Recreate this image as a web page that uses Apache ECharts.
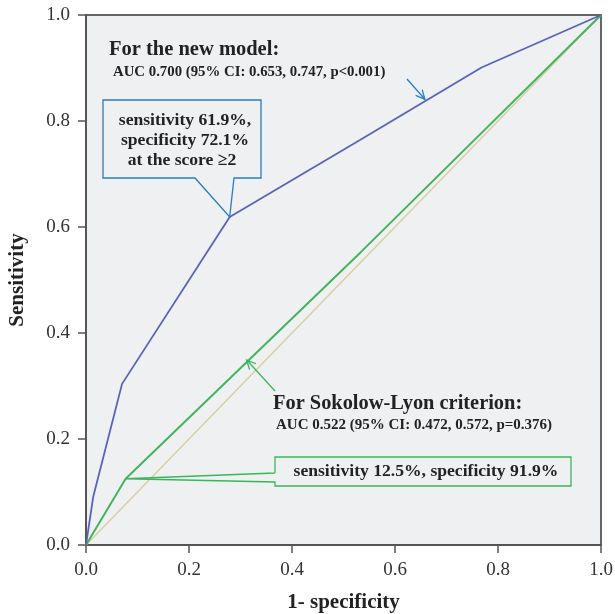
<!DOCTYPE html>
<html>
<head>
<meta charset="utf-8">
<script src="https://cdn.jsdelivr.net/npm/echarts@6/dist/echarts.min.js"></script>
<style>
  html, body { margin: 0; padding: 0; background: #fff; }
  #chart { width: 615px; height: 614px; }
</style>
</head>
<body>
<div id="chart"></div>
<script>
// ROC curve points [1 - specificity, sensitivity]
const newModel = [[0, 0], [0.014, 0.091], [0.07, 0.304], [0.279, 0.619], [0.532, 0.764], [0.768, 0.901], [1, 1]]
const sokolowLyon = [[0, 0], [0.077, 0.125], [0.534, 0.553], [1, 1]]
const reference = [[0, 0], [1, 1]]
const tickValues = [0, 0.2, 0.4, 0.6, 0.8, 1.0]

const newModelCut = [0.279, 0.619]
const sokolowCut = [0.077, 0.125]
const newModelArrowTip = [0.658, 0.841]
const sokolowArrowTip = [0.312, 0.349]

const FONT = '"Liberation Serif", "DejaVu Serif", serif'
const BG = '#eff0f2'
const BLUE_LINE = '#5864b8'
const GREEN_LINE = '#45b45e'
const BLUE_BOX = '#2a7cc0'
const GREEN_BOX = '#3cb55a'

const chart = echarts.init(document.getElementById('chart'))

const axisCommon = {
  type: 'value',
  min: 0,
  max: 1,
  interval: 0.2,
  nameLocation: 'middle',
  nameTextStyle: { fontFamily: FONT, fontWeight: 'bold', fontSize: 21, color: '#222' },
  axisLine: { show: true, lineStyle: { color: '#555', width: 2 } },
  axisTick: { show: true, length: 8, lineStyle: { color: '#555', width: 1.5 } },
  axisLabel: {
    fontFamily: FONT,
    fontSize: 19,
    color: '#333',
    formatter: (v) => v.toFixed(1),
  },
  splitLine: { show: false },
}

chart.setOption({
  animation: false,
  grid: {
    left: 86,
    top: 15,
    width: 515,
    height: 530,
    containLabel: false,
    outerBoundsMode: 'none',
    show: true,
    backgroundColor: BG,
    borderColor: '#666',
    borderWidth: 2,
  },
  xAxis: {
    ...axisCommon,
    name: '1- specificity',
    nameGap: 47,
    axisLabel: { ...axisCommon.axisLabel, margin: 16 },
  },
  yAxis: {
    ...axisCommon,
    name: 'Sensitivity',
    nameGap: 58,
    axisLabel: { ...axisCommon.axisLabel, margin: 16 },
  },
  series: [
    {
      type: 'line',
      data: reference,
      symbol: 'none',
      lineStyle: { color: '#d8cfa0', width: 1.5 },
    },
    {
      type: 'line',
      data: sokolowLyon,
      symbol: 'none',
      lineStyle: { color: GREEN_LINE, width: 2 },
    },
    {
      type: 'line',
      data: newModel,
      symbol: 'none',
      lineStyle: { color: BLUE_LINE, width: 1.8 },
    },
  ],
})

// annotations, anchored on data points through the axes
const toPx = (p) => chart.convertToPixel({ gridIndex: 0 }, p)
const cutA = toPx(newModelCut)
const cutB = toPx(sokolowCut)
const tipA = toPx(newModelArrowTip)
const tipB = toPx(sokolowArrowTip)

function arrow(from, to, color) {
  const ang = Math.atan2(to[1] - from[1], to[0] - from[0])
  const len = 10
  const spread = 0.45
  const a1 = [to[0] - len * Math.cos(ang - spread), to[1] - len * Math.sin(ang - spread)]
  const a2 = [to[0] - len * Math.cos(ang + spread), to[1] - len * Math.sin(ang + spread)]
  return [
    { type: 'line', shape: { x1: from[0], y1: from[1], x2: to[0], y2: to[1] }, style: { stroke: color, lineWidth: 1.3 }, z: 10 },
    { type: 'polyline', shape: { points: [a1, to, a2] }, style: { stroke: color, fill: null, lineWidth: 1.3 }, z: 10 },
  ]
}

function text(str, x, y, size, align) {
  return {
    type: 'text',
    x, y,
    z: 20,
    style: {
      text: str,
      fontFamily: FONT,
      fontWeight: 'bold',
      fontSize: size,
      fill: '#222',
      align: align || 'left',
      verticalAlign: 'middle',
    },
  }
}

const graphics = [
  text('For the new model:', 109, 50, 20.5),
  text('AUC 0.700 (95% CI: 0.653, 0.747, p<0.001)', 113, 72, 14.8),
  ...arrow([407, 79], tipA, BLUE_BOX),
  {
    type: 'polygon',
    z: 15,
    shape: {
      points: [[103, 100], [261, 100], [261, 178], [234, 178], cutA, [195, 178], [103, 178]],
    },
    style: { stroke: BLUE_BOX, lineWidth: 1.3, fill: BG },
  },
  text('sensitivity 61.9%,', 185, 120, 17.6, 'center'),
  text('specificity 72.1%', 185, 140, 17.6, 'center'),
  text('at the score \u22652', 182, 160, 17.6, 'center'),

  text('For Sokolow-Lyon criterion:', 273, 404, 20.4),
  text('AUC 0.522 (95% CI: 0.472, 0.572, p=0.376)', 276, 425, 15),
  ...arrow([275, 391], tipB, GREEN_BOX),
  {
    type: 'polyline',
    z: 15,
    shape: {
      points: [[275, 473], [275, 457], [571, 457], [571, 486], [275, 486], [275, 482], cutB, [275, 473]],
    },
    style: { stroke: GREEN_BOX, lineWidth: 1.3, fill: null },
  },
  {
    type: 'rect',
    z: 14,
    shape: { x: 276, y: 458, width: 294, height: 27 },
    style: { fill: BG },
  },
  text('sensitivity 12.5%, specificity 91.9%', 426, 471, 17.6, 'center'),
]

chart.setOption({ graphic: graphics })

window.addEventListener('resize', () => chart.resize())
</script>
</body>
</html>
